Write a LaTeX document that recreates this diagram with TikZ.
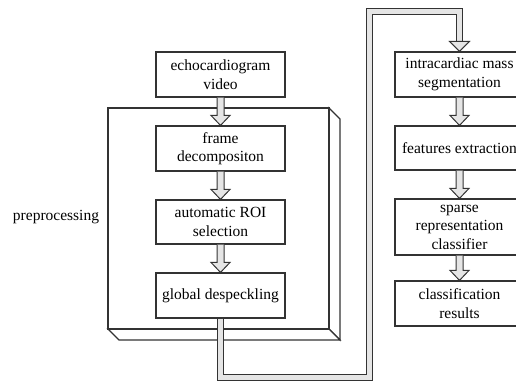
\documentclass[tikz,border=0pt]{standalone}
\usepackage{fontspec}
\setmainfont{Liberation Serif}
\usetikzlibrary{calc}
\tikzset{
  x=1pt, y=-1pt,
  stepbox/.style={draw=black!80, line width=1.2pt, fill=white, minimum width=129pt,
    inner sep=0pt, align=center, font=\fontsize{15.5}{18.5}\selectfont},
  harrow/.style={draw=black!80, line width=1pt, fill=black!10, line join=miter},
  pipe/.style={draw=black!80, line width=1pt, double=black!10, double distance=5pt, line join=miter},
  cube/.style={draw=black!80, line width=1.2pt, fill=white, line join=miter},
  lbl/.style={font=\fontsize{15.5}{18.5}\selectfont, inner sep=0pt}
}
\newcommand\hollowarrow[2]{%
  \draw[harrow] ($(#1.south)+(-3.5,0)$) -- ($(#2.north)+(-3.5,-10)$) -- ++(-6,0)
    -- (#2.north) -- ++(9.5,-10) -- ++(-6,0) -- ($(#1.south)+(3.5,0)$);}
\begin{document}
\begin{tikzpicture}
\useasboundingbox (0,0) rectangle (516,381);
\clip (0,0) rectangle (516,381);
% 3D preprocessing box
\draw[cube] (329,108) -- (340,119) -- (340,340) -- (329,329) -- cycle;
\draw[cube] (108,329) -- (329,329) -- (340,340) -- (119,340) -- cycle;
\draw[cube] (108,108) rectangle (329,329);
\node[lbl] (pre) at (56,217) {preprocessing};
% nodes
\node[stepbox, minimum height=45pt] (ev)  at (220.5,74.5) {echocardiogram\\video};
\node[stepbox, minimum height=45pt] (fd)  at (220.5,148.5) {frame\\decompositon};
\node[stepbox, minimum height=44pt] (roi) at (220.5,222) {automatic ROI\\selection};
\node[stepbox, minimum height=45pt] (gd)  at (220.5,295.5) {global despeckling};
\node[stepbox, minimum height=45pt] (ims) at (459.5,74.5) {intracardiac mass\\segmentation};
\node[stepbox, minimum height=44pt] (fe)  at (459.5,148) {features extraction};
\node[stepbox, minimum height=56pt] (src) at (459.5,227) {sparse\\representation\\classifier};
\node[stepbox, minimum height=45pt] (cr)  at (459.5,303.5) {classification\\results};
% pipe connector
\coordinate (pb) at (369.5,377);
\coordinate (pt) at (369.5,11.5);
\coordinate (ph) at ($(ims.north)+(0,-10)$);
\draw[pipe] (gd.south) |- (pb) -- (pt) -| (ph);
\draw[harrow] ($(ph)+(-10,0)$) -- (ims.north) -- ($(ph)+(10,0)$) -- cycle;
% hollow arrows
\hollowarrow{ev}{fd}
\hollowarrow{fd}{roi}
\hollowarrow{roi}{gd}
\hollowarrow{ims}{fe}
\hollowarrow{fe}{src}
\hollowarrow{src}{cr}
\end{tikzpicture}
\end{document}
